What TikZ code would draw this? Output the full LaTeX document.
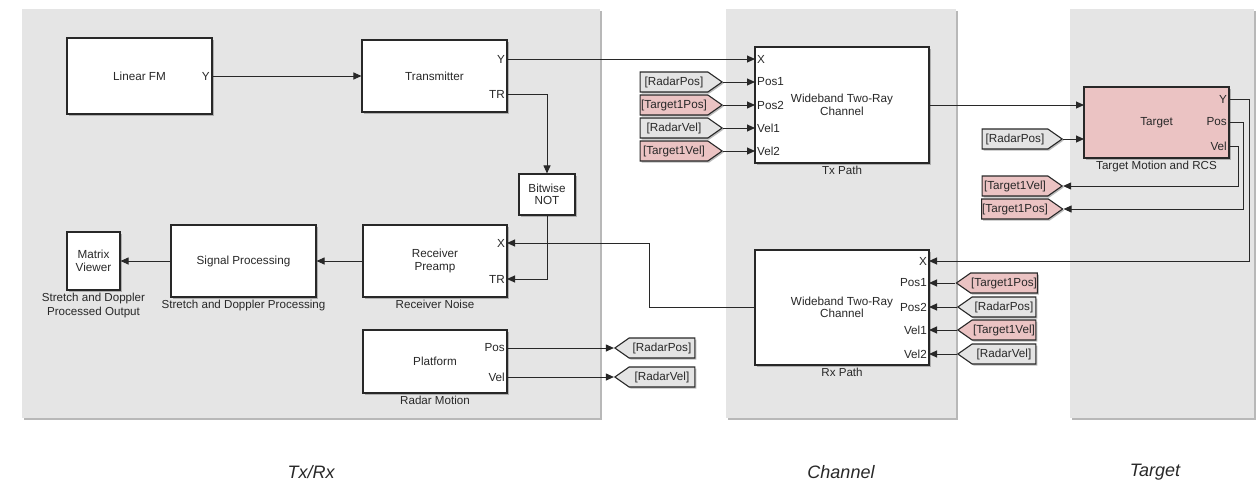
\documentclass[tikz,border=0pt]{standalone}
\usepackage{fontspec}
\setmainfont{Liberation Sans}
\usetikzlibrary{arrows.meta, positioning, calc, shadows, shapes.symbols}
\definecolor{panel}{RGB}{229,229,229}
\definecolor{ink}{RGB}{40,40,40}
\definecolor{pinkfill}{RGB}{235,195,195}
\definecolor{taggray}{RGB}{228,228,228}
\tikzset{
  blk/.style={draw=ink, line width=1.1pt, fill=white, align=center, inner sep=1pt,
    drop shadow={shadow xshift=1.5pt, shadow yshift=-1.5pt, fill=black!45, opacity=.6}},
  panelbox/.style={fill=panel, inner sep=0pt,
    drop shadow={shadow xshift=2pt, shadow yshift=-2pt, fill=black!35, opacity=.8}},
  tagbox/.style={signal, draw=ink, line width=1.1pt, signal pointer angle=70,
    minimum height=20pt, inner sep=0.5pt,
    drop shadow={shadow xshift=1.5pt, shadow yshift=-1.5pt, fill=black!45, opacity=.6}},
  wire/.style={draw=ink, line width=1pt},
  arr/.style={wire, -{Triangle[length=8pt,width=7pt]}},
  portlbl/.style={inner sep=2pt},
  capt/.style={inner sep=1pt, align=center, font=\fontsize{11.6}{14}\selectfont},
  paneltitle/.style={font=\fontsize{18}{21}\selectfont\itshape}
}
\begin{document}
\begin{tikzpicture}[x=1pt, y=-1pt, font=\fontsize{11.7}{12.5}\selectfont, text=ink]
  \useasboundingbox (0,0) rectangle (1256,482);
  \node[panelbox, minimum width=578pt, minimum height=409pt] (pTxRx) at (311,213.5) {};
  \node[panelbox, minimum width=230pt, minimum height=409pt] (pChannel) at (841,213.5) {};
  \node[panelbox, minimum width=184pt, minimum height=409pt] (pTarget) at (1162,213.5) {};
  \node[paneltitle] (tTxRx) at (311,472) {Tx/Rx};
  \node[paneltitle] (tChannel) at (841,472) {Channel};
  \node[paneltitle] (tTarget) at (1155,472) {Target};

  \node[blk, minimum width=145pt, minimum height=76pt] (lfm) at (139.5,76) {Linear FM};
  \node[blk, minimum width=145pt, minimum height=72pt] (tx) at (434.5,76) {Transmitter};
  \node[blk, minimum width=56pt, minimum height=41pt] (bnot) at (547,194.5) {Bitwise\\NOT};
  \node[blk, minimum width=144pt, minimum height=72pt] (rxpre) at (435,261) {Receiver\\Preamp};
  \node[blk, minimum width=145pt, minimum height=72pt] (sigp) at (243.5,261) {Signal Processing};
  \node[blk, minimum width=53pt, minimum height=58pt] (mview) at (93.5,261) {Matrix\\Viewer};
  \node[blk, minimum width=144pt, minimum height=63pt] (plat) at (435,361.5) {Platform};
  \node[blk, minimum width=174pt, minimum height=116pt] (txpath) at (842,105) {Wideband Two-Ray\\Channel};
  \node[blk, minimum width=174pt, minimum height=115pt] (rxpath) at (842,307.5) {Wideband Two-Ray\\Channel};
  \node[blk, fill=pinkfill, minimum width=145pt, minimum height=71pt] (target) at (1156.5,122.5) {Target};

  \node[capt, below=1pt of mview] (cMview) {Stretch and Doppler\\Processed Output};
  \node[capt, below=1pt of sigp] (cSigp) {Stretch and Doppler Processing};
  \node[capt, below=1pt of rxpre] (cRxpre) {Receiver Noise};
  \node[capt, below=1pt of plat] (cPlat) {Radar Motion};
  \node[capt, below=1pt of txpath] (cTxpath) {Tx Path};
  \node[capt, below=1pt of rxpath] (cRxpath) {Rx Path};
  \node[capt, below=1pt of target] (cTarget) {Target Motion and RCS};

  \coordinate (lfmY) at (212,76);
  \coordinate (txY) at (507,59);
  \coordinate (txTR) at (507,94);
  \coordinate (rxX) at (507,243);
  \coordinate (rxTR) at (507,279);
  \coordinate (txpX) at (755,59);
  \coordinate (rxpX) at (929,261);
  \coordinate (tgtIn1) at (1084,105);
  \coordinate (tgtIn2) at (1084,139);
  \coordinate (tgtY) at (1229,99);
  \coordinate (tgtPos) at (1229,122);
  \coordinate (tgtVel) at (1229,146);
  \foreach \c/\t in {lfmY/Y, txY/Y, txTR/TR, rxX/X, rxTR/TR, rxpX/X, tgtY/Y, tgtPos/Pos, tgtVel/Vel}
    \node[portlbl, anchor=east] at (\c) {\t};
  \node[portlbl, anchor=west] at (txpX) {X};

  \draw[arr] (lfm) -- (tx);
  \draw[arr] (txY) -- (txpX);
  \draw[arr] (txTR) -| (bnot);
  \draw[arr] (bnot) |- (rxTR);
  \draw[arr] (rxpre) -- (sigp);
  \draw[arr] (sigp) -- (mview);
  \draw[arr] (txpath) -- (tgtIn1);
  \draw[arr] (rxpath.west) -- ++(-105,0) |- (rxX);

  \foreach \p/\y/\t in {Pos/348/RadarPos, Vel/377/RadarVel} {
    \coordinate (plat\p) at (507,\y);
    \node[portlbl, anchor=east] at (plat\p) {\p};
    \node[tagbox, signal to=west, fill=taggray, minimum width=80pt] (goto\p) at (662,\y) {[\t]};
    \draw[arr] (plat\p) -- (goto\p.west);
  }
  \foreach \p/\y/\t/\c in {Pos1/82/RadarPos/taggray, Pos2/105/Target1Pos/pinkfill,
                           Vel1/128/RadarVel/taggray, Vel2/151/Target1Vel/pinkfill} {
    \coordinate (txp\p) at (755,\y);
    \node[portlbl, anchor=west] at (txp\p) {\p};
    \node[tagbox, signal to=east, fill=\c, minimum width=82pt] (txtag\p) at (674,\y) {[\t]};
    \draw[arr] (txtag\p.east) -- (txp\p);
  }
  \foreach \p/\y/\t/\c in {Pos1/283/Target1Pos/pinkfill, Pos2/307/RadarPos/taggray,
                           Vel1/330/Target1Vel/pinkfill, Vel2/354/RadarVel/taggray} {
    \coordinate (rxp\p) at (929,\y);
    \node[portlbl, anchor=east] at (rxp\p) {\p};
    \node[tagbox, signal to=west, fill=\c, minimum width=78pt] (rxtag\p) at (1004,\y) {[\t]};
    \draw[arr] (rxtag\p.west) -- (rxp\p);
  }

  \node[tagbox, signal to=east, fill=taggray, minimum width=80pt] (fromRP) at (1015,139) {[RadarPos]};
  \node[tagbox, signal to=east, fill=pinkfill, minimum width=80pt] (gotoT1V) at (1015,186) {[Target1Vel]};
  \node[tagbox, signal to=east, fill=pinkfill, minimum width=80pt] (gotoT1P) at (1015,209) {[Target1Pos]};
  \draw[arr] (fromRP.east) -- (tgtIn2);
  \draw[arr] (tgtY) -- ++(20,0) |- (rxpX);
  \draw[arr] (tgtPos) -- ++(14,0) |- (gotoT1P.east);
  \draw[arr] (tgtVel) -- ++(9,0) |- (gotoT1V.east);
\end{tikzpicture}
\end{document}
